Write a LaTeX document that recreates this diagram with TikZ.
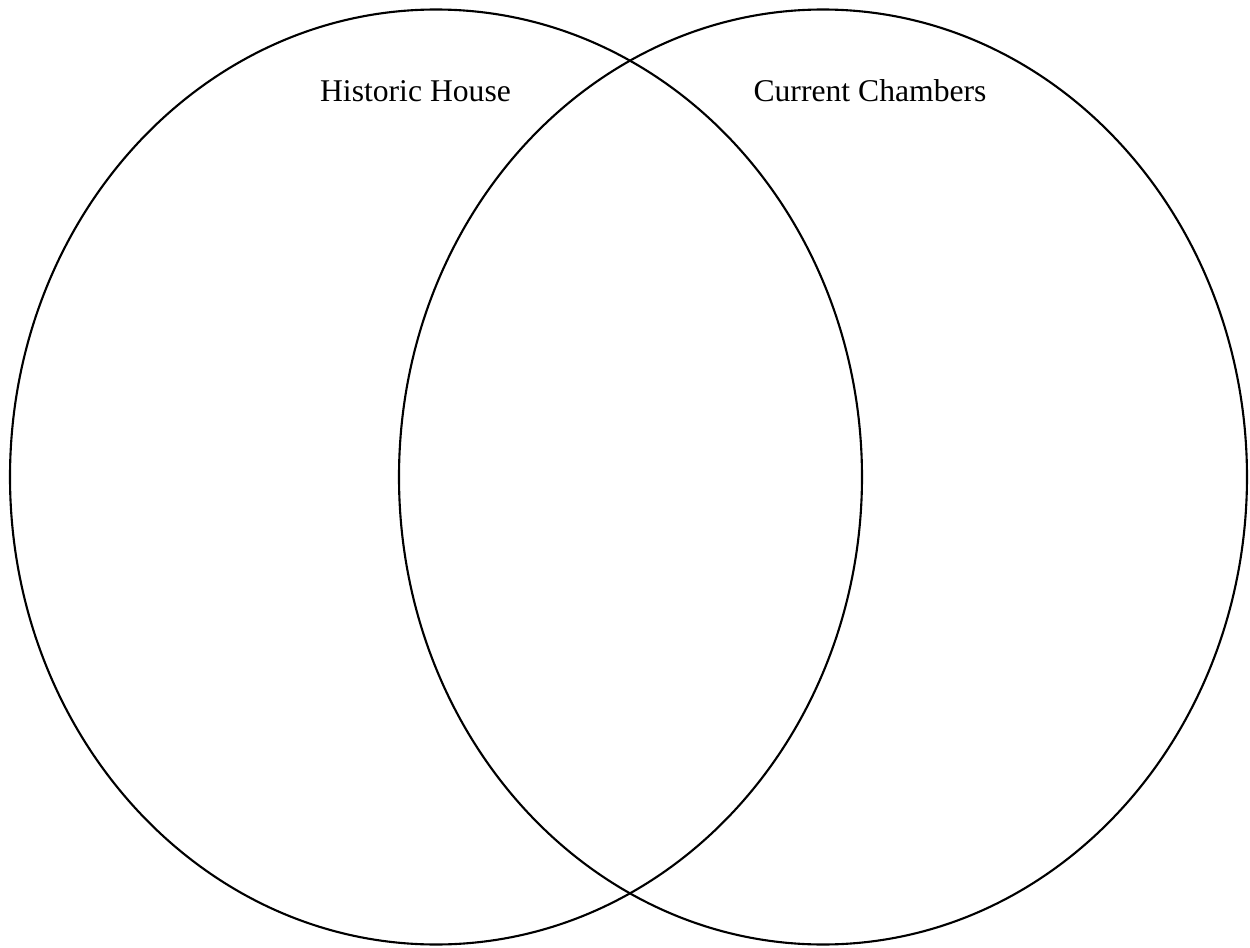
\documentclass[tikz,border=0pt]{standalone}
\usepackage{fontspec}
\setmainfont{Liberation Serif}
\begin{document}
\begin{tikzpicture}[x=0.01cm, y=-0.01cm, line width=0.6pt]
  \useasboundingbox (0, 0) rectangle (1250, 948);
  \draw (436, 477) ellipse [x radius=426, y radius=467.5];
  \draw (823, 477) ellipse [x radius=424, y radius=467.5];
  \node[anchor=base, font=\fontsize{9}{11}\selectfont] (H) at (415.5, 101) {Historic House};
  \node[anchor=base, font=\fontsize{9}{11}\selectfont] (C) at (870, 101) {Current Chambers};
\end{tikzpicture}
\end{document}
